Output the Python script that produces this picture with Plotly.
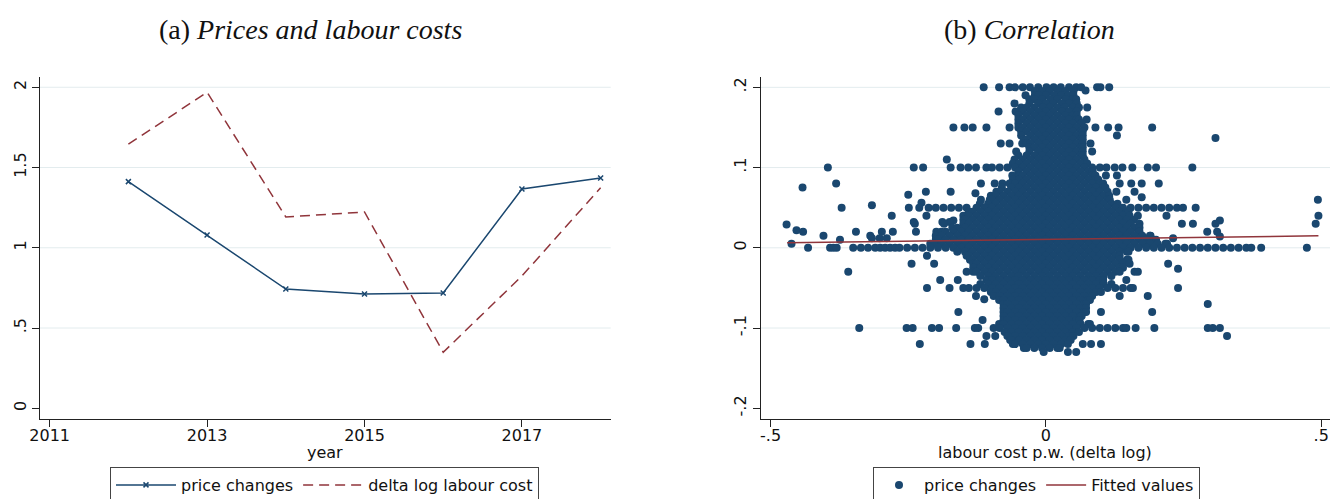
import plotly.graph_objects as go

# ---------------- panel (a): yearly averages ----------------
years = [2012, 2013, 2014, 2015, 2016, 2017, 2018]
price_changes = [1.412, 1.080, 0.743, 0.712, 0.718, 1.366, 1.435]
labour_cost_changes = [1.645, 1.969, 1.192, 1.223, 0.349, 0.824, 1.374]

year_ticks = [2011, 2013, 2015, 2017]
a_y_ticks = [0, 0.5, 1, 1.5, 2]
a_y_labels = ["0", ".5", "1", "1.5", "2"]
a_grid = [0.5, 1, 1.5, 2]

# ---------------- panel (b): firm-level observations ----------------
# price change of each row of observations, and the labour cost changes observed at it
row_dp = [
    0.200, 0.196, 0.195, 0.190, 0.185, 0.180, 0.175, 0.170, 0.165, 0.160,
    0.155, 0.150, 0.145, 0.140, 0.137, 0.135, 0.130, 0.125, 0.120, 0.115,
    0.110, 0.105, 0.100, 0.095, 0.090, 0.085, 0.080, 0.075, 0.070, 0.068,
    0.066, 0.065, 0.063, 0.060, 0.056, 0.055, 0.053, 0.050, 0.045, 0.040,
    0.035, 0.034, 0.032, 0.030, 0.029, 0.025, 0.022, 0.020, 0.015, 0.014,
    0.012, 0.010, 0.005, 0.000, -0.005, -0.010, -0.015, -0.020, -0.025, -0.026,
    -0.030, -0.035, -0.040, -0.045, -0.050, -0.055, -0.060, -0.064, -0.065, -0.070,
    -0.075, -0.080, -0.085, -0.090, -0.095, -0.100, -0.105, -0.110, -0.115, -0.120,
    -0.125, -0.130,
]
row_dlc = [
    [-0.113, -0.085, -0.066, -0.056, -0.042, -0.029, -0.014, 0.001, 0.014, 0.027, 0.042, 0.055, 0.064, 0.093, 0.099, 0.115],
    [0.072],
    [-0.020, -0.007, 0.007, 0.022, 0.035, 0.050],
    [-0.037, -0.020, -0.013, 0.000, 0.015, 0.028, 0.041, 0.050],
    [-0.030, -0.021, -0.007, 0.008, 0.021, 0.036, 0.049, 0.055],
    [-0.057, -0.030, -0.014, 0.000, 0.013, 0.028, 0.042, 0.056],
    [-0.045, -0.035, -0.021, -0.006, 0.007, 0.021, 0.034, 0.049, 0.060, 0.075],
    [-0.086, -0.055, -0.042, -0.028, -0.014, 0.000, 0.014, 0.029, 0.042, 0.056],
    [-0.050, -0.035, -0.021, -0.007, 0.007, 0.021, 0.035, 0.049, 0.056],
    [-0.050, -0.042, -0.028, -0.014, 0.000, 0.014, 0.028, 0.042, 0.056, 0.060, 0.074],
    [-0.050, -0.035, -0.021, -0.007, 0.007, 0.021, 0.035, 0.049, 0.063, 0.065],
    [-0.168, -0.148, -0.133, -0.108, -0.066, -0.050, -0.042, -0.028, -0.014, 0.000, 0.014, 0.028, 0.042, 0.056, 0.070,
     0.090, 0.113, 0.132, 0.193],
    [-0.045, -0.035, -0.021, -0.007, 0.007, 0.021, 0.035, 0.049, 0.063, 0.067],
    [-0.045, -0.028, -0.014, 0.000, 0.014, 0.028, 0.042, 0.056, 0.067, 0.129],
    [0.308],
    [-0.040, -0.035, -0.021, -0.007, 0.007, 0.021, 0.035, 0.049, 0.063, 0.067],
    [-0.082, -0.066, -0.043, -0.035, -0.028, -0.014, 0.000, 0.014, 0.028, 0.042, 0.056, 0.067, 0.081],
    [-0.030, -0.021, -0.007, 0.007, 0.021, 0.035, 0.049, 0.063, 0.067],
    [-0.054, -0.030, -0.014, 0.000, 0.014, 0.028, 0.042, 0.056, 0.067, 0.084],
    [-0.050, -0.035, -0.021, -0.007, 0.007, 0.021, 0.035, 0.049, 0.063, 0.067],
    [-0.180, -0.057, -0.042, -0.028, -0.014, 0.000, 0.014, 0.028, 0.042, 0.056, 0.070],
    [-0.060, -0.049, -0.035, -0.021, -0.007, 0.007, 0.021, 0.035, 0.049, 0.063, 0.075],
    [-0.396, -0.240, -0.223, -0.173, -0.155, -0.141, -0.127, -0.108, -0.098, -0.084, -0.070, -0.056, -0.042, -0.028,
     -0.014, 0.000, 0.014, 0.028, 0.042, 0.056, 0.070, 0.084, 0.098, 0.110, 0.125, 0.139, 0.157, 0.185, 0.200, 0.266],
    [-0.050, -0.035, -0.021, -0.007, 0.007, 0.021, 0.035, 0.049, 0.063, 0.077, 0.085],
    [-0.061, -0.048, -0.042, -0.028, -0.014, 0.000, 0.014, 0.028, 0.042, 0.056, 0.070, 0.084, 0.090, 0.109, 0.129],
    [-0.060, -0.049, -0.035, -0.021, -0.007, 0.007, 0.021, 0.035, 0.049, 0.063, 0.077, 0.091, 0.095],
    [-0.381, -0.118, -0.093, -0.079, -0.066, -0.056, -0.042, -0.028, -0.014, 0.000, 0.014, 0.028, 0.042, 0.056, 0.070,
     0.084, 0.098, 0.104, 0.134, 0.155, 0.174, 0.205],
    [-0.442, -0.080, -0.063, -0.049, -0.035, -0.021, -0.007, 0.007, 0.021, 0.035, 0.049, 0.063, 0.077, 0.091, 0.105, 0.108],
    [-0.218, -0.173, -0.090, -0.084, -0.070, -0.056, -0.042, -0.028, -0.014, 0.000, 0.014, 0.028, 0.042, 0.056, 0.070,
     0.084, 0.098, 0.112, 0.128, 0.161],
    [-0.128],
    [-0.250],
    [-0.100, -0.091, -0.077, -0.063, -0.049, -0.035, -0.021, -0.007, 0.007, 0.021, 0.035, 0.049, 0.063, 0.077, 0.091,
     0.105, 0.115],
    [0.174],
    [-0.118, -0.102, -0.098, -0.084, -0.070, -0.056, -0.042, -0.028, -0.014, 0.000, 0.014, 0.028, 0.042, 0.056, 0.070,
     0.084, 0.098, 0.112, 0.116, 0.146, 0.494],
    [-0.226],
    [-0.120, -0.105, -0.091, -0.077, -0.063, -0.049, -0.035, -0.021, -0.007, 0.007, 0.021, 0.035, 0.049, 0.063, 0.077,
     0.091, 0.105, 0.119, 0.130],
    [-0.316],
    [-0.371, -0.249, -0.230, -0.213, -0.200, -0.186, -0.172, -0.158, -0.144, -0.126, -0.112, -0.098, -0.084, -0.070,
     -0.056, -0.042, -0.028, -0.014, 0.000, 0.014, 0.028, 0.042, 0.056, 0.070, 0.084, 0.098, 0.112, 0.126, 0.140,
     0.154, 0.168, 0.182, 0.196, 0.210, 0.224, 0.238, 0.249, 0.272],
    [-0.140, -0.133, -0.119, -0.105, -0.091, -0.077, -0.063, -0.049, -0.035, -0.021, -0.007, 0.007, 0.021, 0.035, 0.049,
     0.063, 0.077, 0.091, 0.105, 0.119, 0.133, 0.147, 0.150],
    [-0.280, -0.217, -0.150, -0.140, -0.126, -0.112, -0.098, -0.084, -0.070, -0.056, -0.042, -0.028, -0.014, 0.000,
     0.014, 0.028, 0.042, 0.056, 0.070, 0.084, 0.098, 0.112, 0.126, 0.140, 0.152, 0.167, 0.219, 0.495],
    [-0.150, -0.147, -0.133, -0.119, -0.105, -0.091, -0.077, -0.063, -0.049, -0.035, -0.021, -0.007, 0.007, 0.021, 0.035,
     0.049, 0.063, 0.077, 0.091, 0.105, 0.119, 0.133, 0.147, 0.160],
    [-0.168, 0.316],
    [-0.240, -0.188, -0.175],
    [-0.238, -0.185, -0.150, -0.140, -0.126, -0.112, -0.098, -0.084, -0.070, -0.056, -0.042, -0.028, -0.014, 0.000,
     0.014, 0.028, 0.042, 0.056, 0.070, 0.084, 0.098, 0.112, 0.126, 0.140, 0.154, 0.170, 0.247, 0.267, 0.308, 0.490],
    [-0.471],
    [-0.170, -0.161, -0.147, -0.133, -0.119, -0.105, -0.091, -0.077, -0.063, -0.049, -0.035, -0.021, -0.007, 0.007,
     0.021, 0.035, 0.049, 0.063, 0.077, 0.091, 0.105, 0.119, 0.133, 0.147, 0.161, 0.170],
    [-0.453],
    [-0.441, -0.345, -0.298, -0.278, -0.236, -0.199, -0.190, -0.182, -0.168, -0.154, -0.140, -0.126, -0.112, -0.098,
     -0.084, -0.070, -0.056, -0.042, -0.028, -0.014, 0.000, 0.014, 0.028, 0.042, 0.056, 0.070, 0.084, 0.098, 0.112,
     0.126, 0.140, 0.154, 0.168, 0.170, 0.293, 0.311],
    [-0.404, -0.319, -0.200, -0.189, -0.175, -0.161, -0.147, -0.133, -0.119, -0.105, -0.091, -0.077, -0.063, -0.049,
     -0.035, -0.021, -0.007, 0.007, 0.021, 0.035, 0.049, 0.063, 0.077, 0.091, 0.105, 0.119, 0.133, 0.147, 0.161,
     0.175, 0.189, 0.190],
    [0.316],
    [-0.316, -0.302, -0.289, 0.231],
    [-0.374, -0.200, -0.196, -0.182, -0.168, -0.154, -0.140, -0.126, -0.112, -0.098, -0.084, -0.070, -0.056, -0.042,
     -0.028, -0.014, 0.000, 0.014, 0.028, 0.042, 0.056, 0.070, 0.084, 0.098, 0.112, 0.126, 0.140, 0.154, 0.168,
     0.182, 0.196, 0.200],
    [-0.462, -0.210, -0.203, -0.189, -0.175, -0.161, -0.147, -0.133, -0.119, -0.105, -0.091, -0.077, -0.063, -0.049,
     -0.035, -0.021, -0.007, 0.007, 0.021, 0.035, 0.049, 0.063, 0.077, 0.091, 0.105, 0.119, 0.133, 0.147, 0.161,
     0.175, 0.189, 0.203, 0.217, 0.220],
    [-0.432, -0.392, -0.386, -0.380, -0.350, -0.336, -0.323, -0.310, -0.301, -0.292, -0.283, -0.274, -0.266, -0.252,
     -0.238, -0.224, -0.210, -0.196, -0.182, -0.168, -0.154, -0.140, -0.126, -0.112, -0.098, -0.084, -0.070, -0.056,
     -0.042, -0.028, -0.014, 0.000, 0.014, 0.028, 0.042, 0.056, 0.070, 0.084, 0.098, 0.112, 0.126, 0.140, 0.154,
     0.168, 0.182, 0.196, 0.210, 0.224, 0.238, 0.252, 0.266, 0.280, 0.294, 0.308, 0.322, 0.336, 0.350, 0.364, 0.373,
     0.391, 0.474],
    [-0.161, -0.147, -0.133, -0.119, -0.105, -0.091, -0.077, -0.063, -0.049, -0.035, -0.021, -0.007, 0.007, 0.021,
     0.035, 0.049, 0.063, 0.077, 0.091, 0.105, 0.119, 0.133, 0.147, 0.150],
    [-0.216, -0.144, -0.140, -0.126, -0.112, -0.098, -0.084, -0.070, -0.056, -0.042, -0.028, -0.014, 0.000, 0.014,
     0.028, 0.042, 0.056, 0.070, 0.084, 0.098, 0.112, 0.126, 0.134],
    [-0.138, -0.133, -0.119, -0.105, -0.091, -0.077, -0.063, -0.049, -0.035, -0.021, -0.007, 0.007, 0.021, 0.035,
     0.049, 0.063, 0.077, 0.091, 0.105, 0.119, 0.133, 0.147, 0.150],
    [-0.244, -0.203, -0.132, -0.126, -0.112, -0.098, -0.084, -0.070, -0.056, -0.042, -0.028, -0.014, 0.000, 0.014,
     0.028, 0.042, 0.056, 0.070, 0.084, 0.098, 0.112, 0.126, 0.140, 0.152, 0.222],
    [-0.132, -0.119, -0.105, -0.091, -0.077, -0.063, -0.049, -0.035, -0.021, -0.007, 0.007, 0.021, 0.035, 0.049,
     0.063, 0.077, 0.091, 0.105, 0.119, 0.133, 0.140],
    [0.240],
    [-0.359, -0.144, -0.132, -0.126, -0.112, -0.098, -0.084, -0.070, -0.056, -0.042, -0.028, -0.014, 0.000, 0.014,
     0.028, 0.042, 0.056, 0.070, 0.084, 0.098, 0.112, 0.126, 0.134, 0.161, 0.167],
    [-0.119, -0.105, -0.091, -0.077, -0.063, -0.049, -0.035, -0.021, -0.007, 0.007, 0.021, 0.035, 0.049, 0.063,
     0.077, 0.091, 0.105, 0.119],
    [-0.192, -0.160, -0.108, -0.098, -0.084, -0.070, -0.056, -0.042, -0.028, -0.014, 0.000, 0.014, 0.028, 0.042,
     0.056, 0.070, 0.084, 0.098, 0.104, 0.146],
    [-0.119, -0.105, -0.091, -0.077, -0.063, -0.049, -0.035, -0.021, -0.007, 0.007, 0.021, 0.035, 0.049, 0.063,
     0.077, 0.091, 0.105, 0.119],
    [-0.216, -0.175, -0.150, -0.140, -0.126, -0.112, -0.098, -0.084, -0.070, -0.056, -0.042, -0.028, -0.014, 0.000,
     0.014, 0.028, 0.042, 0.056, 0.070, 0.084, 0.098, 0.112, 0.126, 0.140, 0.154, 0.158, 0.240],
    [-0.100, -0.091, -0.077, -0.063, -0.049, -0.035, -0.021, -0.007, 0.007, 0.021, 0.035, 0.049, 0.063, 0.077,
     0.091, 0.100],
    [-0.127, -0.095, -0.084, -0.070, -0.056, -0.042, -0.028, -0.014, 0.000, 0.014, 0.028, 0.042, 0.056, 0.070,
     0.084, 0.134, 0.185],
    [-0.112],
    [-0.085, -0.077, -0.063, -0.049, -0.035, -0.021, -0.007, 0.007, 0.021, 0.035, 0.049, 0.063, 0.077, 0.080],
    [-0.077, -0.070, -0.056, -0.042, -0.028, -0.014, 0.000, 0.014, 0.028, 0.042, 0.056, 0.070, 0.073, 0.294],
    [-0.077, -0.063, -0.049, -0.035, -0.021, -0.007, 0.007, 0.021, 0.035, 0.049, 0.063, 0.073],
    [-0.159, -0.077, -0.070, -0.056, -0.042, -0.028, -0.014, 0.000, 0.014, 0.028, 0.042, 0.056, 0.070, 0.073,
     0.100, 0.193],
    [-0.077, -0.063, -0.049, -0.035, -0.021, -0.007, 0.007, 0.021, 0.035, 0.049, 0.063, 0.065],
    [-0.115, -0.077, -0.070, -0.056, -0.042, -0.028, -0.014, 0.000, 0.014, 0.028, 0.042, 0.056, 0.061],
    [-0.085, -0.077, -0.063, -0.049, -0.035, -0.021, -0.007, 0.007, 0.021, 0.035, 0.049, 0.063, 0.077, 0.080],
    [-0.339, -0.253, -0.242, -0.207, -0.194, -0.163, -0.129, -0.123, -0.095, -0.084, -0.070, -0.056, -0.042, -0.028,
     -0.014, 0.000, 0.014, 0.028, 0.042, 0.056, 0.070, 0.084, 0.098, 0.112, 0.126, 0.140, 0.146, 0.163, 0.197,
     0.294, 0.303, 0.316],
    [-0.075, -0.063, -0.049, -0.035, -0.021, -0.007, 0.007, 0.021, 0.035, 0.049, 0.060],
    [-0.108, -0.092, -0.070, -0.056, -0.042, -0.028, -0.014, 0.000, 0.014, 0.028, 0.042, 0.050, 0.329],
    [-0.065, -0.063, -0.049, -0.035, -0.021, -0.007, 0.007, 0.021, 0.035, 0.045],
    [-0.229, -0.137, -0.111, -0.060, -0.056, -0.042, -0.028, -0.014, 0.000, 0.014, 0.028, 0.040, 0.067, 0.082, 0.100],
    [-0.040, -0.035, -0.021, -0.007, 0.007, 0.021, 0.025],
    [-0.004, 0.040, 0.055],
]

# end points of the OLS fit of price changes on labour cost changes
fit_dlc = [-0.470, 0.495]
fit_dp = [0.0062, 0.0150]

lc_ticks = [-0.5, 0, 0.5]
lc_labels = ["-.5", "0", ".5"]
b_y_ticks = [-0.2, -0.1, 0, 0.1, 0.2]
b_y_labels = ["-.2", "-.1", "0", ".1", ".2"]
b_grid = [-0.1, 0, 0.1, 0.2]

# flatten the observation rows into point coordinates
obs_dlc = [v for row in row_dlc for v in row]
obs_dp = [lvl for lvl, row in zip(row_dp, row_dlc) for _ in row]

NAVY = "#1a476f"
MAROON = "#90353b"
GRID = "#e3ecee"
SANS = "DejaVu Sans"
SERIF = "Liberation Serif"
W, H = 1330, 499

fig = go.Figure()

fig.add_trace(go.Scatter(
    x=years, y=price_changes, mode="lines+markers", name="price changes",
    line=dict(color=NAVY, width=1.5),
    marker=dict(symbol="x-thin", size=5, color=NAVY, line=dict(color=NAVY, width=1.5)),
    xaxis="x", yaxis="y", legend="legend",
))
fig.add_trace(go.Scatter(
    x=years, y=labour_cost_changes, mode="lines", name="delta log labour cost",
    line=dict(color=MAROON, width=1.5, dash="10px,6px"),
    xaxis="x", yaxis="y", legend="legend",
))
fig.add_trace(go.Scatter(
    x=obs_dlc, y=obs_dp, mode="markers", name="price changes",
    marker=dict(size=8, color=NAVY, line=dict(width=0)),
    xaxis="x2", yaxis="y2", legend="legend2",
))
fig.add_trace(go.Scatter(
    x=fit_dlc, y=fit_dp, mode="lines", name="Fitted values",
    line=dict(color=MAROON, width=1.5),
    xaxis="x2", yaxis="y2", legend="legend2",
))

axis_common = dict(
    showline=True, linecolor="#222", linewidth=1, mirror=False,
    ticks="outside", ticklen=7, tickwidth=1, tickcolor="#222",
    showgrid=False, zeroline=False,
    tickfont=dict(family=SANS, size=16, color="#111"),
)
y_dom = [1 - 418.7 / H, 1 - 77.3 / H]

legend_common = dict(
    orientation="h", xanchor="left", yanchor="top", y=1 - 467 / H,
    bordercolor="#444", borderwidth=1, bgcolor="white",
    font=dict(family=SANS, size=16, color="#111"),
)

fig.update_layout(
    width=W, height=H,
    margin=dict(l=0, r=0, t=0, b=0, autoexpand=False),
    paper_bgcolor="white", plot_bgcolor="white",
    xaxis=dict(domain=[40 / W, 610.7 / W], range=[2010.877, 2018.128],
               tickvals=year_ticks, ticktext=[str(v) for v in year_ticks],
               anchor="y", ticklabelstandoff=-5, **axis_common),
    yaxis=dict(domain=y_dom, range=[-0.065, 2.062], tickvals=a_y_ticks,
               ticktext=a_y_labels, tickangle=-90, anchor="x", **axis_common),
    xaxis2=dict(domain=[760.7 / W, 1.0], range=[-0.518, 0.516],
                tickvals=lc_ticks, ticktext=lc_labels, anchor="y2",
                ticklabelstandoff=-5, **axis_common),
    yaxis2=dict(domain=y_dom, range=[-0.213, 0.2125], tickvals=b_y_ticks,
                ticktext=b_y_labels, tickangle=-90, anchor="x2", **axis_common),
    showlegend=True,
    legend=dict(x=110 / W, itemwidth=60, **legend_common),
    legend2=dict(x=873 / W, itemwidth=40, **legend_common),
)

# horizontal grid lines at the labelled ticks above the axis minimum
for v in a_grid:
    fig.add_shape(type="line", xref="x domain", yref="y", x0=0, x1=1, y0=v, y1=v,
                  line=dict(color=GRID, width=1), layer="below")
for v in b_grid:
    fig.add_shape(type="line", xref="x2 domain", yref="y2", x0=0, x1=1, y0=v, y1=v,
                  line=dict(color=GRID, width=1), layer="below")

# panel captions and axis titles
fig.add_annotation(text="(a) <i>Prices and labour costs</i>", xref="paper", yref="paper",
                   x=310 / W, y=1 - 30 / H, showarrow=False, xanchor="center", yanchor="middle",
                   font=dict(family=SERIF, size=28, color="#111"))
fig.add_annotation(text="(b) <i>Correlation</i>", xref="paper", yref="paper",
                   x=1029 / W, y=1 - 30 / H, showarrow=False, xanchor="center", yanchor="middle",
                   font=dict(family=SERIF, size=28, color="#111"))
fig.add_annotation(text="year", xref="paper", yref="paper",
                   x=325 / W, y=1 - 452 / H, showarrow=False, xanchor="center", yanchor="middle",
                   font=dict(family=SANS, size=16, color="#111"))
fig.add_annotation(text="labour cost p.w. (delta log)", xref="paper", yref="paper",
                   x=1045 / W, y=1 - 452 / H, showarrow=False, xanchor="center", yanchor="middle",
                   font=dict(family=SANS, size=16, color="#111"))

fig.write_html("out.html")
